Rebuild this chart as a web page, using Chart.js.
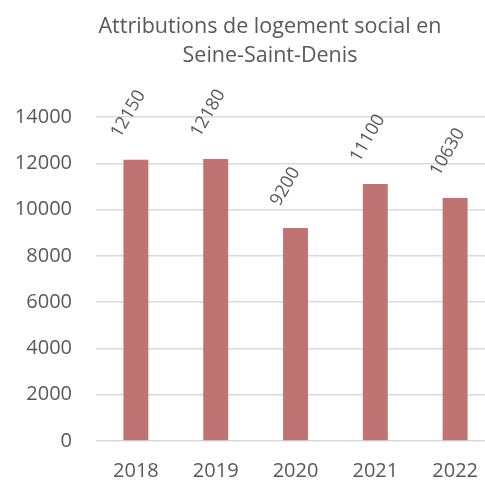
<!DOCTYPE html>
<html>
<head>
<meta charset="utf-8">
<script src="https://cdn.jsdelivr.net/npm/chart.js@4.4.0/dist/chart.umd.min.js"></script>
<style>
  html, body { margin: 0; padding: 0; background: #fff; overflow: hidden; }
  #wrap { width: 496px; height: 481px; }
</style>
</head>
<body>
<div id="wrap"><canvas id="chartAttributions" width="496" height="481"></canvas></div>
<script>
// donnees
var annees = ['2018', '2019', '2020', '2021', '2022'];
var attributions = [12150, 12180, 9200, 11100, 10500];
var etiquettes = ['12150', '12180', '9200', '11100', '10630'];
var titre = ['Attributions de logement social en', 'Seine-Saint-Denis'];
var graduations = [0, 2000, 4000, 6000, 8000, 10000, 12000, 14000];

var police = '"Open Sans", "DejaVu Sans", sans-serif';
var gris = '#595959';

// titre + etiquettes tournees au dessus des barres
var etiquettesPlugin = {
    id: 'etiquettes',
    afterDatasetsDraw: function(chart) {
        var ctx = chart.ctx;
        var meta = chart.getDatasetMeta(0);
        ctx.save();
        ctx.fillStyle = gris;
        ctx.font = '18px ' + police;
        ctx.textAlign = 'left';
        ctx.textBaseline = 'alphabetic';
        meta.data.forEach(function(bar, i) {
            ctx.save();
            ctx.translate(bar.x - 16, bar.y - 21);
            ctx.rotate(-60 * Math.PI / 180);
            ctx.fillText(etiquettes[i], 0, 0);
            ctx.restore();
        });
        ctx.restore();
    },
    afterDraw: function(chart) {
        var ctx = chart.ctx;
        ctx.save();
        ctx.fillStyle = gris;
        ctx.font = '21.5px ' + police;
        ctx.textAlign = 'center';
        ctx.textBaseline = 'alphabetic';
        titre.forEach(function(ligne, i) {
            ctx.fillText(ligne, 270, 33 + i * 29);
        });
        ctx.restore();
    }
};

var chart_attributions = document.getElementById('chartAttributions');
var chartAttributions = new Chart(chart_attributions, {
    type: 'bar',
    data: {
        labels: annees,
        datasets: [{
            label: 'Attributions',
            data: attributions,
            backgroundColor: '#c07373',
            borderWidth: 0,
            barPercentage: 1,
            categoryPercentage: 0.3125
        }]
    },
    options: {
        responsive: false,
        animation: false,
        devicePixelRatio: 1,
        layout: {
            padding: { top: 117, left: 0, right: 0, bottom: 0 }
        },
        plugins: {
            legend: { display: false },
            title: { display: false },
            tooltip: { enabled: false }
        },
        scales: {
            x: {
                offset: true,
                grid: {
                    display: false,
                    drawTicks: false
                },
                border: { display: false },
                ticks: {
                    color: gris,
                    padding: 18,
                    font: { family: police, size: 20 }
                },
                afterFit: function(scale) { scale.height = 40; }
            },
            y: {
                min: 0,
                max: 14000,
                afterBuildTicks: function(scale) {
                    scale.ticks = graduations.map(function(v) { return { value: v }; });
                },
                grid: {
                    color: '#d9d9d9',
                    lineWidth: 1.5,
                    drawTicks: false
                },
                border: { display: false },
                ticks: {
                    color: gris,
                    padding: 24,
                    font: { family: police, size: 20 },
                    callback: function(value) { return String(value); }
                },
                afterFit: function(scale) { scale.width = 96; }
            }
        }
    },
    plugins: [etiquettesPlugin]
});
</script>
</body>
</html>
